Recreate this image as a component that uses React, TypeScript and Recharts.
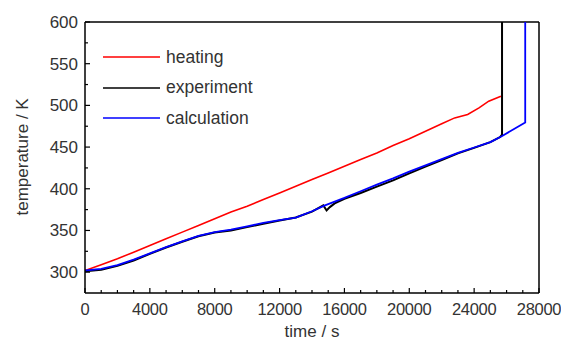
import { LineChart, Line, XAxis, YAxis, Legend, ReferenceLine } from 'recharts';

// heating (furnace) temperature
const heatingTime = [0, 1000, 2000, 3000, 4000, 5000, 6000, 7000, 8000, 9000, 10000, 11000, 12000, 13000, 14000, 15000, 16000, 17000, 18000, 19000, 20000, 21000, 22000, 22800, 23600, 24300, 24900, 25650];
const heatingTemp = [302, 309, 316, 324, 332, 340, 348, 356, 364, 372, 379, 387, 395, 403, 411, 419, 427, 435, 443, 452, 460, 469, 478, 485, 489, 497, 505, 511];

// measured
const experimentTime = [0, 1000, 2000, 3000, 4000, 5000, 6000, 7000, 8000, 9000, 10000, 11000, 12000, 13000, 14000, 14700, 14900, 15100, 15400, 16000, 17000, 18000, 19000, 20000, 21000, 22000, 23000, 24000, 25000, 25600, 25720, 25720];
const experimentTemp = [301, 303, 307.5, 314, 322, 329.5, 336.5, 343, 347.5, 350, 354, 358, 362, 365.5, 372.5, 380, 374, 378, 382.5, 388, 395, 402.5, 410, 418.5, 426.5, 434.5, 442.5, 449, 456, 462, 465, 600];

// model
const calculationTime = [0, 1000, 2000, 3000, 4000, 5000, 6000, 7000, 8000, 9000, 10000, 11000, 12000, 13000, 14000, 14800, 16000, 17000, 18000, 19000, 20000, 21000, 22000, 23000, 24000, 25000, 25700, 27150, 27150];
const calculationTemp = [302, 304, 308.5, 315, 322.5, 330, 337, 343.5, 348, 351, 355, 359, 362.5, 365.5, 373, 380, 389, 397, 405, 412.5, 420.5, 428, 435.5, 443, 449.5, 456, 463, 479.5, 600];

const seriesNames = ['heating', 'experiment', 'calculation'];
const xTicks = [0, 1000, 2000, 3000, 4000, 5000, 6000, 7000, 8000, 9000, 10000, 11000, 12000, 13000, 14000, 15000, 16000, 17000, 18000, 19000, 20000, 21000, 22000, 23000, 24000, 25000, 26000, 27000, 28000];
const yTicks = [300, 325, 350, 375, 400, 425, 450, 475, 500, 525, 550, 575, 600];

const zip = (ts: number[], vs: number[]) => ts.map((t, i) => ({ t, v: vs[i] }));

const font = '"Liberation Sans", Arial, sans-serif';
const textColor = '#333';

function XTick({ x, y, payload }: any) {
  const major = payload.value % 4000 === 0;
  return (
    <g>
      <line x1={x} x2={x} y1={y} y2={y - (major ? 5 : 3)} stroke="#000" strokeWidth={1.2} />
      {major && (
        <text x={x} y={y + 22} textAnchor="middle" fontSize={16.5} letterSpacing={-0.3} fontFamily={font} fill={textColor}>
          {payload.value}
        </text>
      )}
    </g>
  );
}

function YTick({ x, y, payload }: any) {
  const major = payload.value % 50 === 0;
  return (
    <g>
      <line x1={x} x2={x + (major ? 5 : 3)} y1={y} y2={y} stroke="#000" strokeWidth={1.2} />
      {major && (
        <text x={x - 7} y={y + 6} textAnchor="end" fontSize={17} fontFamily={font} fill={textColor}>
          {payload.value}
        </text>
      )}
    </g>
  );
}

const renderLegend = ({ payload }: any) => {
  const items = [...(payload || [])].sort(
    (a: any, b: any) => seriesNames.indexOf(a.value) - seriesNames.indexOf(b.value)
  );
  return (
    <div>
      {items.map((p: any) => (
        <div key={p.value} style={{ display: 'flex', alignItems: 'center', height: 30.5 }}>
          <svg width={57} height={4}>
            <line x1={0} x2={57} y1={2} y2={2} stroke={p.color} strokeWidth={1.5} />
          </svg>
          <span style={{ marginLeft: 6, fontSize: 17.5, color: textColor, fontFamily: font }}>{p.value}</span>
        </div>
      ))}
    </div>
  );
};

export default function App() {
  return (
    <div style={{ position: 'absolute', left: 0, top: 0, width: 561, height: 342, background: '#fff' }}>
      <LineChart width={561} height={342} margin={{ top: 22, right: 22, left: 25, bottom: 0 }}>
        <XAxis
          dataKey="t"
          type="number"
          domain={[0, 28000]}
          ticks={xTicks}
          interval={0}
          allowDataOverflow
          height={49}
          tickSize={0}
          tickMargin={0}
          tickLine={false}
          tick={<XTick />}
          axisLine={{ stroke: '#000', strokeWidth: 1.5 }}
          label={{ value: 'time / s', position: 'insideBottom', offset: 5, fontSize: 17, fill: textColor, fontFamily: font }}
        />
        <YAxis
          type="number"
          domain={[275, 600]}
          ticks={yTicks}
          interval={0}
          allowDataOverflow
          width={60}
          tickSize={0}
          tickMargin={0}
          tickLine={false}
          tick={<YTick />}
          axisLine={{ stroke: '#000', strokeWidth: 1.5 }}
          label={{ value: 'temperature / K', angle: -90, position: 'insideLeft', offset: -3, dy: 58, fontSize: 17, fill: textColor, fontFamily: font }}
        />
        <ReferenceLine y={600} stroke="#000" strokeWidth={1.5} />
        <ReferenceLine x={28000} stroke="#000" strokeWidth={1.5} />
        <Legend
          layout="vertical"
          align="center"
          verticalAlign="middle"
          content={renderLegend}
          wrapperStyle={{ left: 103, top: 42, width: 'auto' }}
        />
        <Line data={zip(heatingTime, heatingTemp)} dataKey="v" name="heating" stroke="#ff0000" strokeWidth={1.6} dot={false} isAnimationActive={false} />
        <Line data={zip(experimentTime, experimentTemp)} dataKey="v" name="experiment" stroke="#000000" strokeWidth={2} dot={false} isAnimationActive={false} />
        <Line data={zip(calculationTime, calculationTemp)} dataKey="v" name="calculation" stroke="#0000ff" strokeWidth={1.8} dot={false} isAnimationActive={false} />
      </LineChart>
    </div>
  );
}
